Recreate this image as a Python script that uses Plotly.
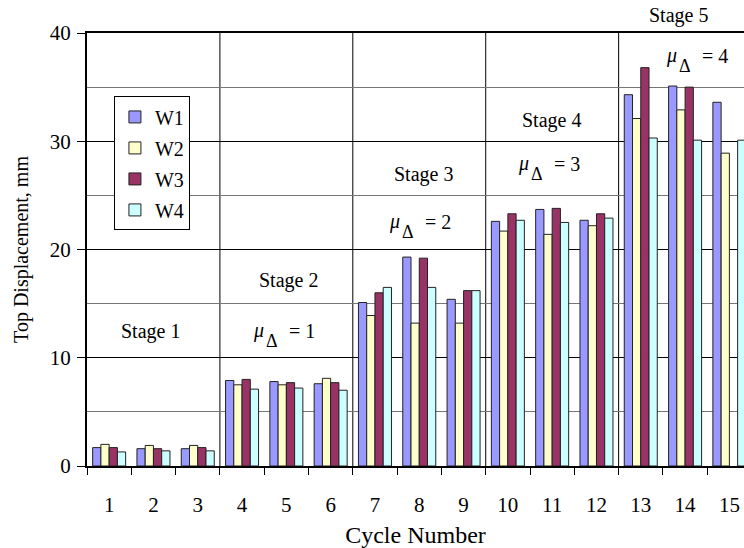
import plotly.graph_objects as go

cycles = [str(i) for i in range(1, 16)]
W1 = [1.7, 1.6, 1.6, 7.9, 7.8, 7.6, 15.1, 19.3, 15.4, 22.6, 23.7, 22.7, 34.3, 35.1, 33.6]
W2 = [2.0, 1.9, 1.9, 7.5, 7.5, 8.1, 13.9, 13.2, 13.2, 21.7, 21.4, 22.2, 32.1, 32.9, 28.9]
W3 = [1.7, 1.6, 1.7, 8.0, 7.7, 7.7, 16.0, 19.2, 16.2, 23.3, 23.8, 23.3, 36.8, 35.0, None]
W4 = [1.3, 1.4, 1.4, 7.1, 7.2, 7.0, 16.5, 16.5, 16.2, 22.7, 22.5, 22.9, 30.3, 30.1, 30.1]
series_names = ["W1", "W2", "W3", "W4"]
series_values = [W1, W2, W3, W4]
colors = ["#9999FF", "#FFFFCC", "#993366", "#CCFFFF"]

stage_labels = ["Stage 1", "Stage 2", "Stage 3", "Stage 4", "Stage 5"]
stage_x = [0.94, 4.04, 7.09, 9.98, 12.86]
stage_y = [12.4, 17.1, 26.9, 31.9, 41.6]
mu_labels = ["= 1", "= 2", "= 3", "= 4"]
mu_x = [3.96, 7.04, 9.96, 13.30]
mu_y = [11.25, 21.3, 26.7, 36.7]
stage_boundaries = [2.5, 5.5, 8.5, 11.5]
Y_MAX = 40

FONT = "Liberation Serif"
fig = go.Figure()
for name, vals, c in zip(series_names, series_values, colors):
    fig.add_trace(go.Bar(x=cycles, y=vals, name=name, legendgroup=name,
                         marker=dict(color=c, line=dict(color="#222222", width=1))))

anns = []
for t, x, y in zip(stage_labels, stage_x, stage_y):
    if y > Y_MAX:
        anns.append(dict(x=x, y=1 + (y - Y_MAX) / Y_MAX, xref="x", yref="paper", text=t,
                         showarrow=False, xanchor="center", yanchor="middle", font=dict(size=20)))
    else:
        anns.append(dict(x=x, y=y, xref="x", yref="y", text=t, showarrow=False,
                         xanchor="center", yanchor="middle", font=dict(size=20)))
for t, x, y in zip(mu_labels, mu_x, mu_y):
    anns.append(dict(x=x, y=y, xref="x", yref="y", text="<i>μ</i>", showarrow=False,
                     xanchor="right", yanchor="bottom", xshift=-19, font=dict(size=20)))
    anns.append(dict(x=x, y=y, xref="x", yref="y", text="Δ", showarrow=False,
                     xanchor="left", yanchor="bottom", xshift=-21, yshift=-9, font=dict(size=18)))
    anns.append(dict(x=x, y=y, xref="x", yref="y", text=t, showarrow=False,
                     xanchor="left", yanchor="bottom", xshift=2, font=dict(size=20)))

shapes = [dict(type="line", xref="x", yref="y", x0=b, x1=b, y0=0, y1=Y_MAX,
               line=dict(color="black", width=1), layer="below") for b in stage_boundaries]

fig.update_layout(
    width=744, height=548,
    margin=dict(l=87, r=0, t=33, b=82, autoexpand=False),
    paper_bgcolor="white", plot_bgcolor="white",
    font=dict(family=FONT, size=20, color="black"),
    barmode="group", bargap=0.255, bargroupgap=0,
    showlegend=True,
    legend=dict(x=0.041, y=0.8535, xanchor="left", yanchor="top",
                bgcolor="white", bordercolor="black", borderwidth=1,
                font=dict(size=20), tracegroupgap=2, itemwidth=30),
    annotations=anns, shapes=shapes,
)
fig.update_xaxes(type="category", range=[-0.5, 14.33], tickson="boundaries", automargin=False,
                 ticks="outside", ticklen=7, tickcolor="black", tickwidth=1,
                 showline=True, linecolor="black", linewidth=2, mirror=True,
                 showgrid=False, ticklabelstandoff=19, tickfont=dict(size=21),
                 title=dict(text="Cycle Number", standoff=11))
fig.update_yaxes(range=[0, Y_MAX], dtick=10, ticks="outside", ticklen=8, tickcolor="black",
                 automargin=False, tickfont=dict(size=21),
                 showline=True, linecolor="black", linewidth=2,
                 showgrid=True, gridcolor="black", gridwidth=1,
                 minor=dict(dtick=5, showgrid=True, gridcolor="#777777", gridwidth=1),
                 zeroline=False, ticklabelstandoff=2,
                 title=dict(text="Top Displacement, mm", standoff=16, font=dict(size=20)))
fig.write_html("out.html", config={"displayModeBar": False},
               post_script="document.body.style.margin='0';")
